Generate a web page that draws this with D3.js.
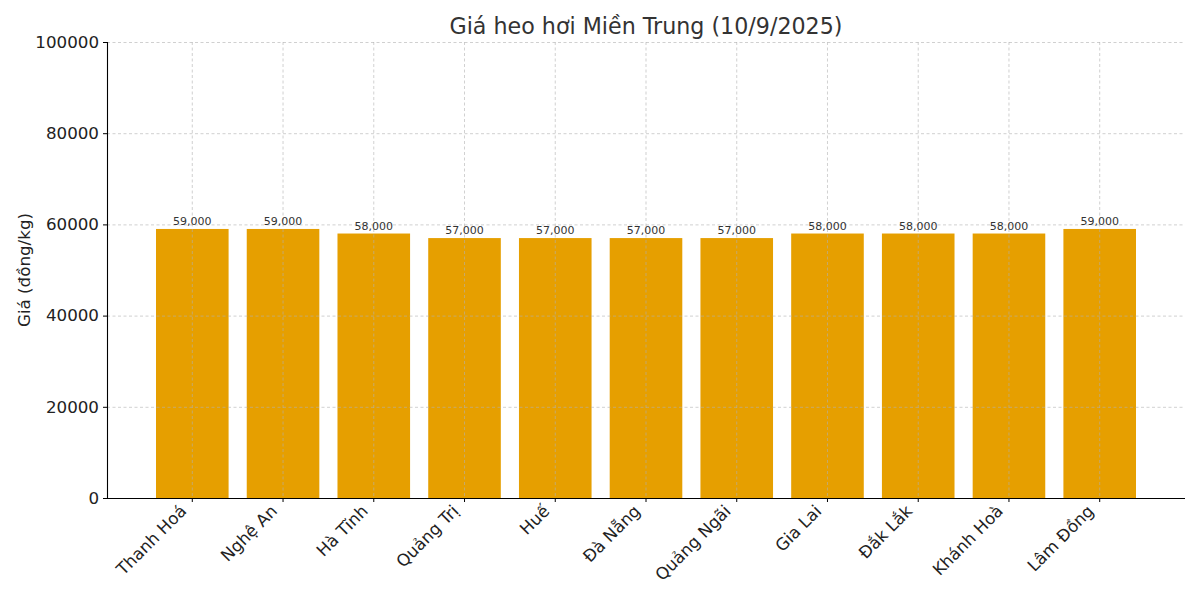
<!DOCTYPE html>
<html>
<head>
<meta charset="utf-8">
<script src="https://cdn.jsdelivr.net/npm/d3@7"></script>
<style>
  body { margin: 0; background: #fff; }
  svg { font-family: "DejaVu Sans", sans-serif; }
</style>
</head>
<body>
<svg width="1200" height="600"></svg>
<script>
const provinces = ['Thanh Hoá', 'Nghệ An', 'Hà Tĩnh', 'Quảng Trị', 'Huế', 'Đà Nẵng',
    'Quảng Ngãi', 'Gia Lai', 'Đắk Lắk', 'Khánh Hoà', 'Lâm Đồng'];
const prices = [59000, 59000, 58000, 57000, 57000, 57000, 57000, 58000, 58000, 58000, 59000];
const yTicks = [0, 20000, 40000, 60000, 80000, 100000];

const svg = d3.select('svg');
const plotLeft = 107, plotRight = 1185, plotTop = 42, plotBottom = 498;

const x = d3.scaleBand().domain(provinces).range([plotLeft, plotRight])
    .paddingInner(0.2).paddingOuter(0.54);
const y = d3.scaleLinear().domain([0, 100000]).range([plotBottom, plotTop]);

// bars
svg.append('g').selectAll('rect').data(provinces)
    .enter().append('rect')
    .attr('x', d => x(d))
    .attr('y', (d, i) => y(prices[i]))
    .attr('width', x.bandwidth())
    .attr('height', (d, i) => y(0) - y(prices[i]))
    .attr('fill', '#E69F00')

// grid on top, like the original
const grid = svg.append('g')
    .attr('stroke', '#b0b0b0')
    .attr('stroke-opacity', 0.75)
    .attr('stroke-width', 0.8)
    .attr('stroke-dasharray', '3,2.5');
grid.selectAll('.gy').data(yTicks).enter().append('line')
    .attr('x1', plotLeft).attr('x2', plotRight)
    .attr('y1', d => y(d) + 0.5).attr('y2', d => y(d) + 0.5);
grid.selectAll('.gx').data(provinces).enter().append('line')
    .attr('y1', plotTop).attr('y2', plotBottom)
    .attr('x1', d => x(d) + x.bandwidth() / 2).attr('x2', d => x(d) + x.bandwidth() / 2);

// value labels
svg.append('g').selectAll('text').data(provinces)
    .enter().append('text')
    .attr('x', d => x(d) + x.bandwidth() / 2)
    .attr('y', (d, i) => y(prices[i]) - 4)
    .attr('text-anchor', 'middle')
    .attr('font-size', 11)
    .attr('fill', '#333')
    .text((d, i) => d3.format(',')(prices[i]));

// axes
const yAxis = svg.append('g')
    .attr('transform', `translate(${plotLeft},0)`)
    .call(d3.axisLeft(y).tickValues(yTicks).tickFormat(d3.format('d')).tickSize(4).tickPadding(4));
yAxis.select('.domain').attr('stroke', '#000').attr('stroke-width', 1.1).attr('d', `M0.5,${plotTop}V${plotBottom}`);
yAxis.selectAll('text').attr('font-size', 16.7).attr('fill', '#222').attr('font-family', '"DejaVu Sans", sans-serif');

const xAxis = svg.append('g')
    .attr('transform', `translate(0,${plotBottom})`)
    .call(d3.axisBottom(x).tickSize(4).tickPadding(4));
xAxis.select('.domain').attr('stroke', '#000').attr('stroke-width', 1.1).attr('d', `M${plotLeft},0.5H${plotRight}`);
xAxis.selectAll('text')
    .attr('font-size', 16.7).attr('fill', '#222').attr('font-family', '"DejaVu Sans", sans-serif')
    .attr('text-anchor', 'end')
    .attr('dy', '0.35em')
    .attr('transform', 'translate(-9,10) rotate(-45)')
    .attr('y', 0).attr('x', 0);

// title and label
svg.append('text')
    .attr('x', (plotLeft + plotRight) / 2).attr('y', 34)
    .attr('text-anchor', 'middle')
    .attr('font-size', 22.2).attr('fill', '#333')
    .text('Giá heo hơi Miền Trung (10/9/2025)');

svg.append('text')
    .attr('transform', `translate(30,${(plotTop + plotBottom) / 2}) rotate(-90)`)
    .attr('text-anchor', 'middle')
    .attr('font-size', 16.7).attr('fill', '#222')
    .text('Giá (đồng/kg)');
</script>
</body>
</html>
